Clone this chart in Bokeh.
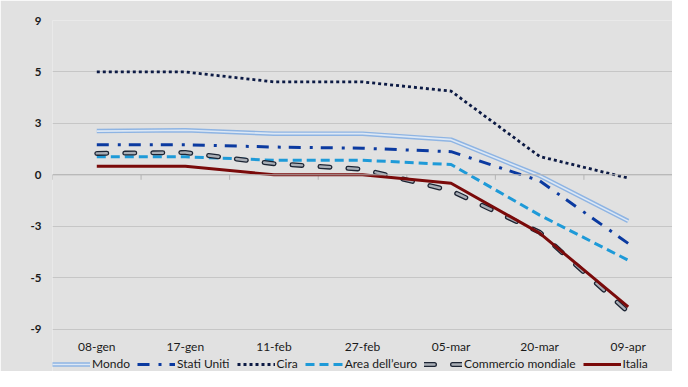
from bokeh.plotting import figure
from bokeh.models import Legend, LegendItem, FixedTicker, Range1d, Span
from bokeh.embed import file_html
from bokeh.resources import INLINE
import numpy as np

categories = ["08-gen", "17-gen", "11-feb", "27-feb", "05-mar", "20-mar", "09-apr"]
mondo = [2.55, 2.6, 2.4, 2.4, 2.05, -0.05, -2.7]
stati_uniti = [1.75, 1.75, 1.62, 1.55, 1.35, -0.35, -4.0]
cira = [6.0, 6.0, 5.42, 5.42, 4.88, 1.07, -0.19]
area_euro = [1.05, 1.05, 0.85, 0.85, 0.6, -2.35, -4.98]
commercio = [1.25, 1.3, 0.65, 0.33, -0.93, -3.35, -8.0]
italia = [0.5, 0.5, 0.0, 0.0, -0.49, -3.4, -7.7]
y_ticks = [9, 6, 3, 0, -3, -6, -9]
y_tick_labels = ["9", "5", "3", "0", "-3", "-5", "-9"]

BG = "#e1e1e1"
FONT = "Lato"
GRID = "#c6c6c6"
ZERO = "#b4b4b4"

x = list(range(len(categories)))

# extra room below -9 inside the frame holds the category labels and the legend
p = figure(width=672, height=371, x_range=Range1d(-0.5, len(categories) - 0.5),
           y_range=Range1d(-11.47, 9), output_backend="svg", toolbar_location=None,
           background_fill_color=BG, border_fill_color=BG,
           min_border_left=52, min_border_right=0, min_border_top=20, min_border_bottom=0)
p.outline_line_color = None

p.xgrid.visible = False
p.ygrid.ticker = FixedTicker(ticks=y_ticks)
p.ygrid.grid_line_color = GRID
p.ygrid.grid_line_width = 1

p.yaxis.ticker = FixedTicker(ticks=y_ticks)
p.yaxis.major_label_overrides = {t: l for t, l in zip(y_ticks, y_tick_labels)}
p.yaxis.axis_line_color = None
p.yaxis.major_tick_line_color = None
p.yaxis.minor_tick_line_color = None
p.yaxis.major_tick_out = 0
p.yaxis.major_label_standoff = 11
p.yaxis.major_label_text_font = FONT
p.yaxis.major_label_text_font_size = "11.5px"
p.yaxis.major_label_text_color = "#1a1a1a"
p.yaxis.major_label_text_font_style = "bold"

# category labels: axis pinned at the lowest gridline
p.xaxis.fixed_location = min(y_ticks)
p.xaxis.ticker = FixedTicker(ticks=x)
p.xaxis.major_label_overrides = {i: c for i, c in zip(x, categories)}
p.xaxis.axis_line_color = None
p.xaxis.major_tick_line_color = None
p.xaxis.minor_tick_line_color = None
p.xaxis.major_tick_out = 0
p.xaxis.major_tick_in = 0
p.xaxis.major_label_standoff = 10
p.xaxis.major_label_text_font = FONT
p.xaxis.major_label_text_font_size = "12px"
p.xaxis.major_label_text_color = "#1a1a1a"

# zero line with tick marks between categories
p.add_layout(Span(location=0, dimension="width", line_color=ZERO, line_width=1))
bounds = np.arange(len(categories) + 1) - 0.5
p.segment(x0=bounds, y0=np.zeros(len(bounds)), x1=bounds, y1=np.full(len(bounds), -0.29),
          line_color=ZERO, line_width=1)

r_mondo_o = p.line(x, mondo, line_color="#8eb4e3", line_width=4.5)
r_mondo_i = p.line(x, mondo, line_color="#dde8f5", line_width=1.6)
r_us = p.line(x, stati_uniti, line_color="#0b3aa0", line_width=3, line_dash="12 9 3 8")
r_cira = p.line(x, cira, line_color="#0c1a44", line_width=2.8, line_dash="3 3")
r_euro = p.line(x, area_euro, line_color="#1e9ad8", line_width=3, line_dash="9 5")
r_com_o = p.line(x, commercio, line_color="#1c2433", line_width=5, line_cap="round", line_dash="10 18")
r_com_i = p.line(x, commercio, line_color="#a9aeb6", line_width=2.4, line_cap="round", line_dash="10 18")
r_ita = p.line(x, italia, line_color="#7a0a0a", line_width=3)

legend = Legend(items=[
    LegendItem(label="Mondo", renderers=[r_mondo_o, r_mondo_i]),
    LegendItem(label="Stati Uniti", renderers=[r_us]),
    LegendItem(label="Cira", renderers=[r_cira]),
    LegendItem(label="Area dell\u2019euro", renderers=[r_euro]),
    LegendItem(label="Commercio mondiale", renderers=[r_com_o, r_com_i]),
    LegendItem(label="Italia", renderers=[r_ita]),
], orientation="horizontal", location=(0, 0),
    background_fill_alpha=0, border_line_color=None,
    glyph_width=38, glyph_height=14, label_standoff=2, spacing=7,
    padding=1, margin=0, label_text_font=FONT, label_text_font_size="12px",
    label_text_color="#1a1a1a")
p.add_layout(legend)

open("out.html", "w").write(file_html(p, INLINE))
